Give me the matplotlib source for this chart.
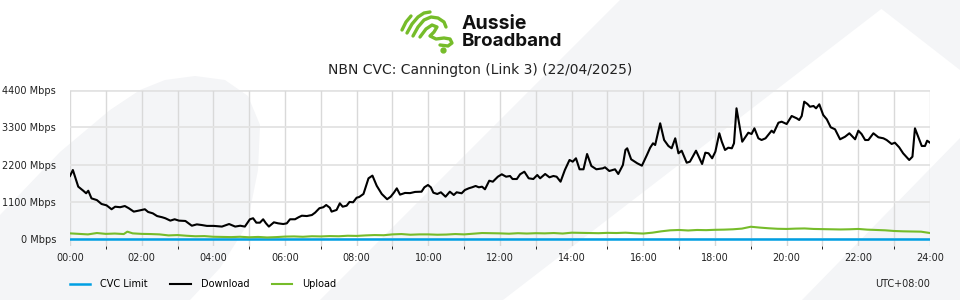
import matplotlib
matplotlib.use("Agg")
import matplotlib.pyplot as plt
from matplotlib.patches import Polygon

# ---- data (hours since midnight, Mbps) ----
dl_hours = [0.00, 0.08, 0.23, 0.37, 0.45, 0.51, 0.60, 0.75, 0.88, 1.02, 1.16, 1.26, 1.40, 1.53, 1.64,
            1.78, 1.92, 2.09, 2.18, 2.31, 2.43, 2.57, 2.66, 2.80, 2.92, 3.04, 3.22, 3.40, 3.54, 3.68,
            3.82, 4.01, 4.24, 4.44, 4.61, 4.75, 4.88, 5.02, 5.11, 5.20, 5.30, 5.39, 5.47, 5.55, 5.69,
            5.81, 5.95, 6.05, 6.14, 6.28, 6.38, 6.47, 6.61, 6.75, 6.84, 6.96, 7.07, 7.15, 7.25, 7.30,
            7.44, 7.53, 7.61, 7.72, 7.80, 7.90, 8.00, 8.07, 8.19, 8.33, 8.44, 8.56, 8.70, 8.85, 8.95,
            9.04, 9.12, 9.21, 9.35, 9.49, 9.63, 9.81, 9.89, 9.99, 10.07, 10.14, 10.25, 10.35, 10.48,
            10.60, 10.71, 10.79, 10.93, 11.02, 11.13, 11.22, 11.32, 11.41, 11.50, 11.58, 11.70, 11.80,
            11.94, 12.05, 12.17, 12.28, 12.35, 12.47, 12.56, 12.68, 12.80, 12.93, 13.04, 13.12, 13.26,
            13.38, 13.49, 13.58, 13.69, 13.81, 13.94, 14.03, 14.12, 14.22, 14.33, 14.43, 14.55, 14.69,
            14.87, 14.93, 15.05, 15.21, 15.30, 15.43, 15.50, 15.55, 15.66, 15.83, 15.96, 16.10, 16.19,
            16.27, 16.33, 16.47, 16.58, 16.70, 16.79, 16.89, 16.98, 17.07, 17.21, 17.30, 17.47, 17.64,
            17.73, 17.82, 17.92, 18.01, 18.12, 18.19, 18.28, 18.37, 18.47, 18.53, 18.60, 18.76, 18.93,
            19.02, 19.10, 19.21, 19.30, 19.41, 19.58, 19.64, 19.77, 19.86, 20.00, 20.14, 20.28, 20.35,
            20.42, 20.49, 20.58, 20.65, 20.75, 20.82, 20.91, 21.02, 21.12, 21.23, 21.35, 21.49, 21.63,
            21.75, 21.91, 22.00, 22.09, 22.19, 22.28, 22.42, 22.56, 22.70, 22.79, 22.93, 23.02, 23.14,
            23.25, 23.35, 23.42, 23.51, 23.58, 23.67, 23.77, 23.86, 23.92, 24.00]
download = [1870, 2045, 1555, 1435, 1360, 1435, 1210, 1160, 1045, 1005, 890, 965, 950, 985, 920,
            820, 850, 890, 810, 770, 690, 655, 625, 555, 595, 555, 545, 405, 445, 425,
            400, 400, 380, 455, 380, 405, 380, 595, 625, 495, 495, 595, 475, 380, 505,
            475, 455, 475, 595, 595, 655, 700, 690, 720, 790, 920, 950, 1015, 935, 820,
            870, 1065, 965, 995, 1105, 1095, 1230, 1250, 1340, 1800, 1880, 1580, 1340, 1185, 1260,
            1380, 1505, 1320, 1370, 1365, 1400, 1407, 1536, 1604, 1536, 1377, 1339, 1389, 1260,
            1407, 1310, 1389, 1360, 1457, 1507, 1536, 1575, 1536, 1554, 1477, 1730, 1701,
            1848, 1919, 1848, 1869, 1780, 1780, 1919, 1995, 1801, 1780, 1898, 1801, 1928,
            1830, 1869, 1848, 1701, 2045, 2340, 2290, 2390, 2066, 2066, 2516, 2163, 2066,
            2095, 2125, 2016, 2066, 1928, 2193, 2634, 2684, 2360, 2243, 2172, 2487, 2700,
            2831, 2781, 3420, 2928, 2752, 2684, 2978, 2537, 2613, 2260, 2290, 2613, 2222,
            2555, 2537, 2390, 2584, 3126, 2878, 2634, 2702, 2684, 2831, 3861, 2878, 3143,
            3105, 3272, 2978, 2928, 2978, 3202, 3143, 3437, 3467, 3399, 3635, 3567, 3517,
            3635, 4056, 3988, 3908, 3929, 3861, 3979, 3664, 3537, 3302, 3243, 2949, 3025,
            3126, 2949, 3202, 3105, 2928, 2928, 3126, 3008, 2978, 2928, 2811, 2849, 2713,
            2537, 2419, 2340, 2437, 3272, 3025, 2752, 2752, 2908, 2849]

ul_hours = [0, 0.25, 0.5, 0.75, 1, 1.25, 1.5, 1.6, 1.75, 2, 2.25, 2.5, 2.75, 3, 3.25, 3.5, 3.75,
            4, 4.25, 4.5, 4.75, 5, 5.25, 5.5, 5.75, 6, 6.25, 6.5, 6.75, 7, 7.25, 7.5, 7.75, 8,
            8.25, 8.5, 8.75, 9, 9.25, 9.5, 9.75, 10, 10.25, 10.5, 10.75, 11, 11.25, 11.5, 11.75,
            12, 12.25, 12.5, 12.75, 13, 13.25, 13.5, 13.75, 14, 14.25, 14.5, 14.75, 15, 15.25,
            15.5, 15.75, 16, 16.25, 16.5, 16.75, 17, 17.25, 17.5, 17.75, 18, 18.25, 18.5, 18.75,
            19, 19.25, 19.5, 19.75, 20, 20.25, 20.5, 20.75, 21, 21.25, 21.5, 21.75, 22, 22.25,
            22.5, 22.75, 23, 23.25, 23.5, 23.75, 24]
upload = [180, 165, 150, 190, 165, 175, 160, 230, 180, 165, 160, 150, 120, 130, 110, 95, 100,
          80, 75, 70, 80, 65, 75, 60, 70, 85, 90, 80, 95, 90, 100, 95, 110, 105,
          120, 130, 125, 150, 160, 140, 150, 150, 140, 145, 160, 150, 170, 190, 185,
          180, 170, 185, 175, 185, 180, 190, 175, 200, 195, 190, 185, 195, 190,
          200, 185, 175, 200, 240, 270, 280, 265, 280, 275, 285, 290, 300, 320,
          375, 350, 330, 315, 310, 320, 325, 310, 305, 300, 295, 300, 310, 290,
          280, 270, 250, 240, 235, 230, 190]

cvc_hours = [0, 24]
cvc_limit = [0, 0]

y_ticks = [0, 1100, 2200, 3300, 4400]
x_ticks = list(range(0, 25, 2))
x_labels = ["%02d:00" % h for h in x_ticks]

title = "NBN CVC: Cannington (Link 3) (22/04/2025)"

BLUE = "#009fe3"
GREEN = "#76bc2a"
BG = "#f4f5f7"

W, H = 960, 300
fig = plt.figure(figsize=(9.6, 3.0), dpi=100, facecolor="white")


def px(points):
    return [(x / W, 1 - y / H) for x, y in points]


# background watermark shapes
shapes = [
    [(0, 300), (0, 215), (60, 152), (110, 110), (140, 90), (165, 80), (195, 76), (225, 80),
     (248, 96), (260, 125), (258, 170), (247, 225), (220, 268), (190, 300)],
    [(320, 300), (620, 0), (893, 0), (503, 300)],
    [(802, 300), (960, 138), (960, 300)],
    [(870, 0), (960, 0), (960, 70)],
]
for s in shapes:
    fig.add_artist(Polygon(px(s), closed=True, transform=fig.transFigure,
                           facecolor=BG, edgecolor="none", zorder=-10))

# logo
lax = fig.add_axes([395 / W, 1 - 56 / H, 70 / W, 51 / H])
lax.set_xlim(395, 465)
lax.set_ylim(56, 5)
lax.axis("off")
strokes = [
    [(402, 30), (406, 22), (411, 16)],
    [(407, 33), (412, 24), (418, 17), (424, 13), (430, 12)],
    [(413, 36), (418, 27), (424, 20), (431, 17), (438, 18), (444, 22), (446, 27)],
    [(420, 37), (426, 29), (432, 25), (437, 27), (434, 32), (430, 36), (436, 39), (444, 38),
     (450, 39), (452, 43), (448, 46), (440, 45)],
]
for s in strokes:
    lax.plot([p[0] for p in s], [p[1] for p in s], color=GREEN, lw=2.4,
             solid_capstyle="round", solid_joinstyle="round")
lax.plot([443], [50], "o", color=GREEN, ms=3.5)

fig.text(462 / W, 1 - 24 / H, "Aussie", fontsize=14, fontweight="bold",
         family=["Inter", "DejaVu Sans"], va="center", ha="left", color="#111111")
fig.text(462 / W, 1 - 41 / H, "Broadband", fontsize=13.5, fontweight="bold",
         family=["Inter", "DejaVu Sans"], va="center", ha="left", color="#111111")

fig.text(480 / W, 1 - 70 / H, title, fontsize=10, ha="center", va="center", color="#222222")

# main chart
ax = fig.add_axes([70 / W, 1 - 245.6 / H, 860 / W, 155.6 / H])
ax.patch.set_alpha(0)
ax.plot(cvc_hours, cvc_limit, color=BLUE, lw=1.8, label="CVC Limit", zorder=3)
ax.plot(dl_hours, download, color="black", lw=1.5, label="Download", zorder=4)
ax.plot(ul_hours, upload, color=GREEN, lw=1.5, label="Upload", zorder=3)

ax.set_xlim(0, 24)
ax.set_ylim(-180, 4400)
ax.set_yticks(y_ticks)
ax.set_yticklabels(["%d Mbps" % v for v in y_ticks])
ax.set_xticks(range(0, 25), minor=True)
ax.set_xticks(x_ticks)
ax.set_xticklabels(x_labels)
ax.tick_params(axis="both", length=0, labelsize=7, colors="#222222")
ax.tick_params(axis="y", pad=10)
ax.tick_params(axis="x", pad=5)
ax.grid(True, which="both", axis="x", color="#d9d9d9", lw=1.0)
ax.grid(True, axis="y", color="#e3e3e3", lw=1.3)
for sp in ax.spines.values():
    sp.set_visible(False)
ax.axhline(4400, color="#e3e3e3", lw=2.0, zorder=1)

fig.legend(loc="center left", bbox_to_anchor=(61 / W, 1 - 284 / H), ncol=3, frameon=False,
           fontsize=7, handlelength=2.1, handletextpad=1.0, columnspacing=2.35,
           borderpad=0.4)
fig.text(930 / W, 1 - 284 / H, "UTC+08:00", fontsize=7, ha="right", va="center", color="#222222")

fig.savefig("out.png", dpi=100, facecolor="white")
